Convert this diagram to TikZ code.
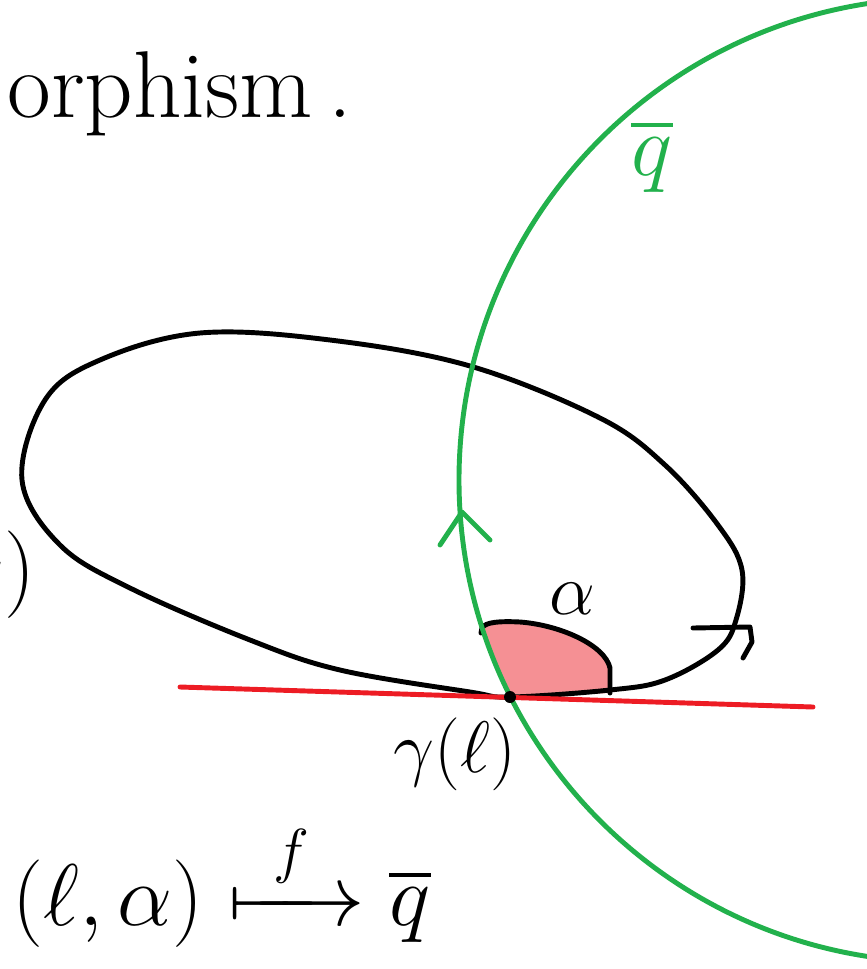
\documentclass[tikz,border=0pt]{standalone}
\usepackage{mathtools}
\definecolor{paintgreen}{RGB}{34,177,76}
\definecolor{paintred}{RGB}{237,28,36}
\definecolor{anglepink}{RGB}{245,144,148}
\tikzset{
  pen/.style={line width=1.4pt, line cap=round, line join=round},
  bigtext/.style={font=\fontsize{27}{32}\selectfont},
  midtext/.style={font=\fontsize{20}{24}\selectfont}
}
\begin{document}
\begin{tikzpicture}[x=0.01cm, y=-0.01cm]
    \useasboundingbox (0,0) rectangle (867,969);

    % angle alpha
    \fill[anglepink] (510,697) -- (610,693) -- (610,668)
        .. controls (605,645) and (560,625) .. (520,622)
        .. controls (500,621) and (485,622) .. (482,628)
        arc[start angle=162, end angle=153.3, radius=482] -- cycle;
    \draw[pen] (481,633) -- (482,628) .. controls (485,622) and (500,621) .. (520,622)
        .. controls (560,625) and (605,645) .. (610,668) -- (610,693);

    % the curve
    \draw[pen] plot[smooth cycle, tension=0.6] coordinates {
        (510,697) (470,692) (340,670) (250,640) (130,588) (60,545) (22,480)
        (45,400) (100,360) (200,333) (330,340) (470,366) (600,418)
        (665,465) (718,525) (742,570) (736,620) (718,650) (665,680) (610,690)};
    \draw[pen] (693,628) -- (750,627) -- (752,642) -- (743,658);

    % tangent line
    \draw[pen, paintred] (180,687) -- (813,707);

    % the circle q
    \draw[pen, paintgreen] (941,480) circle[radius=482];
    \draw[pen, paintgreen] (440,545) -- (462,512) -- (490,540);

    \fill (510,697) circle (6);

    \node[bigtext, anchor=base west] (word) at (-5,117) {orphism\,.};
    \node[bigtext, anchor=base east] (cut) at (48,596) {$\alpha)$};
    \node[bigtext, paintgreen, anchor=base] (qbar) at (652,175) {$\overline{q}$};
    \node[midtext, anchor=base] (alpha) at (572,614) {$\alpha$};
    \node[midtext, anchor=base] (gamma) at (455,772) {$\gamma(\ell)$};
    \node[bigtext, anchor=base west] (map) at (0,925) {$(\ell,\alpha)\xmapsto{\;\,f\;\,}\overline{q}$};
\end{tikzpicture}
\end{document}
